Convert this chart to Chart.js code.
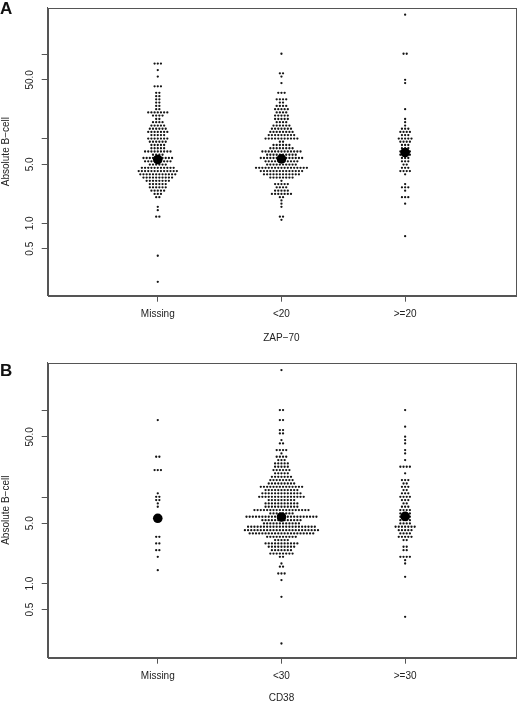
<!DOCTYPE html>
<html>
<head>
<meta charset="utf-8">
<script src="https://cdn.jsdelivr.net/npm/chart.js@4.4.1/dist/chart.umd.min.js"></script>
<style>
    html, body { margin: 0; padding: 0; background: #fff; }
    body { width: 520px; height: 704px; position: relative; overflow: hidden; font-family: "Liberation Sans", Arial, sans-serif; }
    canvas { position: absolute; left: 0; }
    #chartA { top: 0; }
    #chartB { top: 350px; }
    .panel-tag { position: absolute; left: 0; z-index: 2; font-weight: bold; font-size: 17px; line-height: 1; color: #111; }
</style>
</head>
<body>
<canvas id="chartA" width="520" height="350"></canvas>
<canvas id="chartB" width="520" height="354"></canvas>
<div class="panel-tag" style="top:0px">A</div>
<div class="panel-tag" style="top:362px">B</div>
<script>
// axis categories and ticks
const zapCategories = ['Missing', '<20', '>=20'];
const cd38Categories = ['Missing', '<30', '>=30'];
const yTickValues = [0.5, 1, 5, 10, 50, 100];
const yTickLabels = ['0.5', '1.0', '5.0', '', '50.0', ''];

// ZAP-70 panel: rows of the swarm (binned B-cell value) and how many patients sit in each row
const zapMissingValues = [78.1, 65.4, 54.7, 41.9, 35.1, 32.1, 29.4, 26.9, 24.6, 22.5, 20.6, 18.9, 17.2, 15.8, 14.4, 13.2, 12.1, 11.1, 10.1, 9.26, 8.47, 7.75, 7.09, 6.49, 5.94, 5.43, 4.97, 4.55, 4.16, 3.81, 3.48, 3.19, 2.92, 2.67, 2.44, 2.23, 2.04, 1.57, 1.43, 1.20, 0.413, 0.203];
const zapMissingCounts = [3, 1, 1, 3, 2, 2, 2, 2, 2, 2, 7, 4, 2, 4, 5, 6, 7, 5, 7, 6, 5, 5, 9, 4, 10, 9, 6, 11, 13, 12, 10, 8, 6, 6, 5, 3, 2, 1, 1, 2, 1, 1];

const zapLowValues = [102, 59.8, 54.7, 45.8, 35.1, 29.4, 26.9, 24.6, 22.5, 20.6, 18.9, 17.2, 15.8, 14.4, 13.2, 12.1, 11.1, 10.1, 9.26, 8.47, 7.75, 7.09, 6.49, 5.94, 5.43, 4.97, 4.55, 4.16, 3.81, 3.48, 3.19, 2.92, 2.67, 2.44, 2.23, 2.04, 1.87, 1.71, 1.57, 1.20, 1.10];
const zapLowCounts = [1, 2, 1, 1, 3, 4, 2, 4, 5, 4, 5, 5, 4, 6, 7, 8, 9, 11, 2, 6, 8, 13, 10, 14, 11, 10, 17, 14, 12, 8, 1, 5, 4, 5, 7, 2, 1, 1, 1, 2, 1];

const zapHighValues = [296, 102, 50.1, 45.8, 22.5, 17.2, 15.8, 14.4, 13.2, 12.1, 11.1, 10.1, 9.26, 8.47, 7.75, 7.09, 6.49, 5.94, 5.43, 4.97, 4.55, 4.16, 3.81, 2.92, 2.67, 2.44, 2.04, 1.71, 0.704];
const zapHighCounts = [1, 2, 1, 1, 1, 1, 1, 1, 3, 4, 3, 5, 4, 3, 3, 4, 4, 3, 3, 2, 3, 4, 1, 1, 3, 1, 3, 1, 1];

const zapMedians = [5.7, 5.8, 6.9];

// CD38 panel
const cd38MissingValues = [78.1, 29.4, 20.6, 11.1, 10.1, 9.26, 8.47, 7.75, 5.94, 3.48, 2.92, 2.44, 2.04, 1.43];
const cd38MissingCounts = [1, 2, 3, 1, 2, 2, 1, 1, 2, 2, 2, 2, 1, 1];

const cd38LowValues = [296, 102, 78.1, 59.8, 54.7, 45.8, 41.9, 35.1, 32.1, 29.4, 26.9, 24.6, 22.5, 20.6, 18.9, 17.2, 15.8, 14.4, 13.2, 12.1, 11.1, 10.1, 9.26, 8.47, 7.75, 7.09, 6.49, 5.94, 5.43, 4.97, 4.55, 4.16, 3.81, 3.48, 3.19, 2.92, 2.67, 2.44, 2.23, 2.04, 1.71, 1.57, 1.31, 1.10, 0.704, 0.203];
const cd38LowCounts = [1, 2, 2, 2, 2, 1, 2, 4, 1, 4, 3, 5, 5, 6, 5, 7, 8, 9, 14, 11, 13, 15, 9, 11, 11, 18, 8, 23, 13, 12, 22, 24, 21, 10, 5, 11, 9, 7, 8, 2, 1, 2, 3, 1, 1, 1];

const cd38HighValues = [102, 65.4, 50.1, 45.8, 41.9, 35.1, 32.1, 26.9, 22.5, 18.9, 15.8, 14.4, 13.2, 12.1, 11.1, 10.1, 9.26, 8.47, 7.75, 7.09, 6.49, 5.94, 5.43, 4.97, 4.55, 4.16, 3.81, 3.48, 3.19, 2.67, 2.44, 2.04, 1.87, 1.71, 1.20, 0.413];
const cd38HighCounts = [1, 1, 1, 1, 1, 1, 1, 1, 4, 1, 3, 2, 3, 2, 3, 4, 3, 2, 3, 4, 4, 4, 4, 4, 7, 5, 4, 5, 2, 2, 2, 4, 1, 1, 1, 1];

const cd38Medians = [5.7, 5.9, 6.0];

Chart.defaults.font.family = '"Liberation Sans", Arial, sans-serif';
Chart.defaults.color = '#222';

var dotStep = 0.0257; // gap between neighbours in a swarm row, in x units

// lay a row of n points out symmetrically round the group centre
function swarm(groupIndex, values, counts) {
    var pts = [];
    values.forEach((v, i) => {
        var n = counts[i];
        for (var j = 0; j < n; j++) {
            pts.push({ x: groupIndex + 1 + (j - (n - 1) / 2) * dotStep, y: v });
        }
    });
    return pts;
}

const frame = {
    id: 'frame',
    beforeDatasetsDraw(chart) {
        const a = chart.chartArea;
        const ctx = chart.ctx;
        ctx.save();
        ctx.strokeStyle = '#555';
        ctx.lineWidth = 1;
        ctx.strokeRect(Math.round(a.left) + 0.5, Math.round(a.top) + 0.5, Math.round(a.right - a.left), Math.round(a.bottom - a.top));
        ctx.restore();
    }
};

function makePanel(canvasId, categories, groups, medians, xTitle, topPad, xAxisHeight, titleBottom) {
    var dataSet = [{
        data: medians.map((m, i) => ({ x: i + 1, y: m })),
        pointRadius: 4.8,
        backgroundColor: '#000',
        borderWidth: 0
    }];

    groups.forEach((g, i) => {
        dataSet.push({
            data: swarm(i, g[0], g[1]),
            pointRadius: 1.15,
            backgroundColor: '#151515',
            borderWidth: 0
        });
    });

    new Chart(document.getElementById(canvasId), {
        type: 'scatter',
        data: { datasets: dataSet },
        options: {
            responsive: false,
            animation: false,
            events: [],
            layout: { padding: { top: topPad, right: 1.7, left: 0, bottom: 0 } },
            plugins: {
                legend: { display: false },
                tooltip: { enabled: false }
            },
            scales: {
                x: {
                    type: 'linear',
                    min: 0.11,
                    max: 3.89,
                    bounds: 'data',
                    afterBuildTicks: axis => { axis.ticks = categories.map((c, i) => ({ value: i + 1 })); },
                    afterFit: axis => { axis.height = xAxisHeight; },
                    grid: { drawOnChartArea: false, tickLength: 6, color: '#555' },
                    border: { color: '#555' },
                    ticks: {
                        callback: (v, i) => categories[i],
                        autoSkip: false,
                        maxRotation: 0,
                        padding: 7,
                        color: '#222',
                        font: { size: 10 }
                    },
                    title: {
                        display: true,
                        text: xTitle,
                        color: '#222',
                        font: { size: 10 },
                        padding: { top: 0, bottom: titleBottom }
                    }
                },
                y: {
                    type: 'logarithmic',
                    min: 0.139,
                    max: 360,
                    bounds: 'data',
                    afterBuildTicks: axis => { axis.ticks = yTickValues.map(v => ({ value: v })); },
                    afterFit: axis => { axis.width = 47.7; },
                    grid: { drawOnChartArea: false, tickLength: 6, color: '#555' },
                    border: { color: '#555' },
                    ticks: {
                        callback: (v, i) => yTickLabels[i],
                        autoSkip: false,
                        minRotation: 90,
                        maxRotation: 90,
                        crossAlign: 'center',
                        padding: 1.5,
                        color: '#222',
                        font: { size: 10 }
                    },
                    title: {
                        display: true,
                        text: 'Absolute B−cell',
                        color: '#222',
                        font: { size: 10 },
                        padding: 0
                    }
                }
            }
        },
        plugins: [frame]
    });
}

makePanel('chartA', zapCategories,
    [[zapMissingValues, zapMissingCounts], [zapLowValues, zapLowCounts], [zapHighValues, zapHighCounts]],
    zapMedians, 'ZAP−70', 1, 54.3, 6);

makePanel('chartB', cd38Categories,
    [[cd38MissingValues, cd38MissingCounts], [cd38LowValues, cd38LowCounts], [cd38HighValues, cd38HighCounts]],
    cd38Medians, 'CD38', 12.7, 46.3, 0);
</script>
</body>
</html>
